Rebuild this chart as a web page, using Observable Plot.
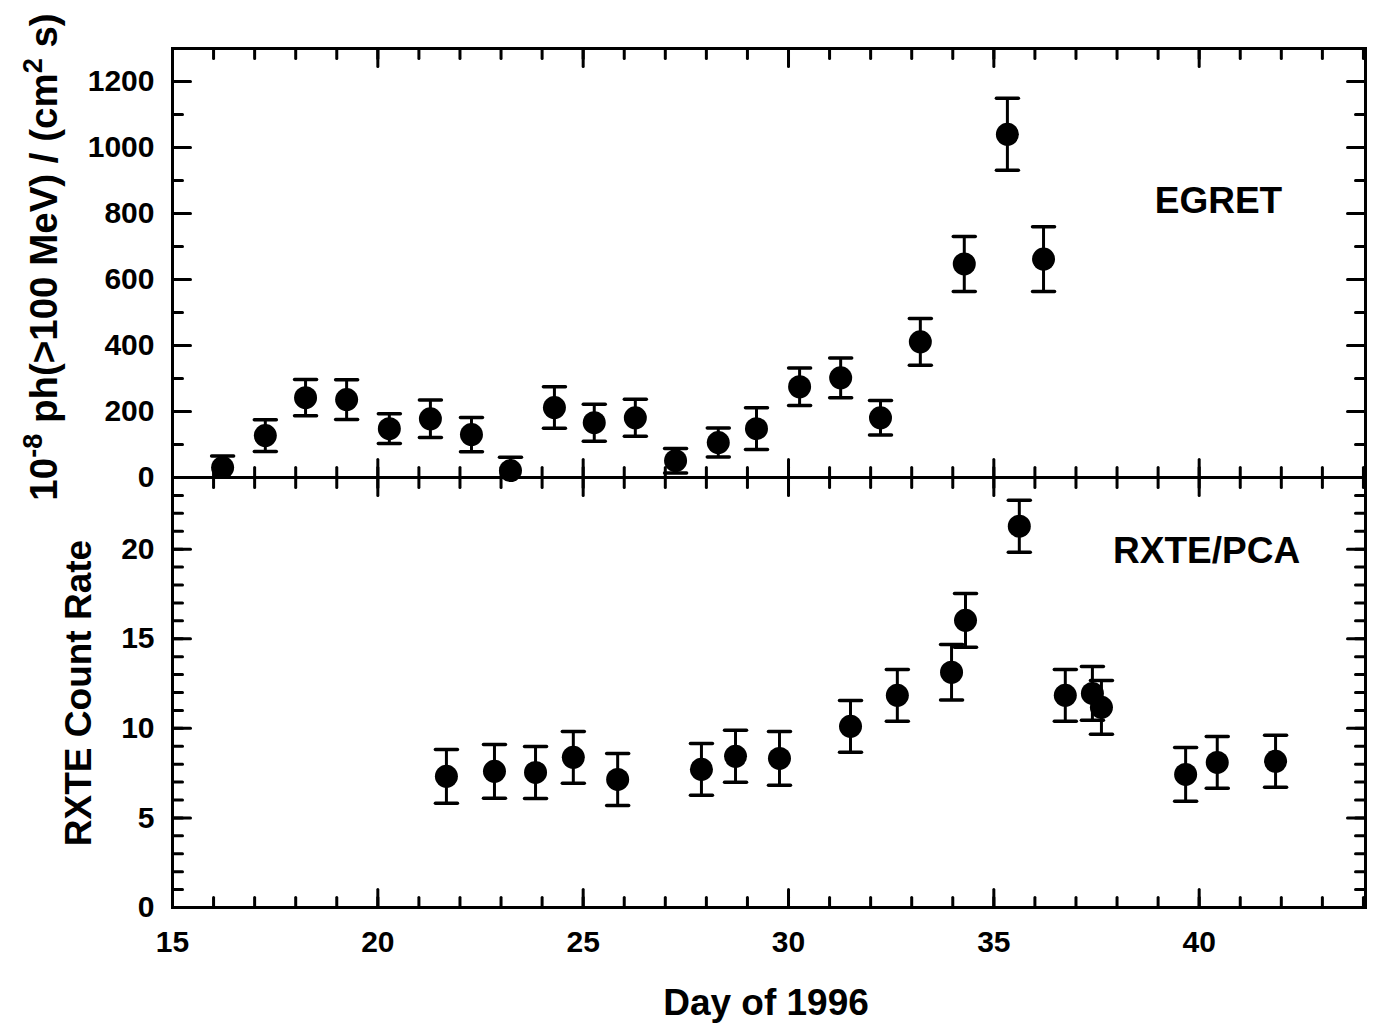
<!DOCTYPE html>
<html><head><meta charset="utf-8">
<script src="https://cdn.jsdelivr.net/npm/d3@7"></script>
<script src="https://cdn.jsdelivr.net/npm/@observablehq/plot@0.6"></script>
<style>
body{margin:0;background:#fff;}
#wrap{position:relative;width:1379px;height:1029px;}
#wrap svg{position:absolute;left:0;}
</style></head><body><div id="wrap"></div>
<script>
// ---- data ----
const egretDay  = [16.22,17.26,18.24,19.24,20.28,21.28,22.28,23.23,24.30,25.27,26.27,27.25,28.29,29.22,30.27,31.27,32.24,33.21,34.28,35.33,36.21];
const egretFlux = [30,127,242,236,148,178,130,21,212,166,181,51,106,148,275,302,181,411,647,1040,662];
const egretErr  = [35,48,55,60,45,57,52,40,63,56,56,37,44,63,57,60,52,71,83,109,98];

const rxteDay  = [21.67,22.84,23.84,24.76,25.84,27.88,28.71,29.78,31.51,32.65,33.97,34.31,35.62,36.74,37.40,37.62,39.67,40.44,41.86];
const rxteRate = [7.32,7.60,7.54,8.38,7.15,7.71,8.44,8.32,10.11,11.84,13.13,16.03,21.28,11.84,11.95,11.17,7.43,8.10,8.16];
const rxteErr  = [1.5,1.5,1.45,1.45,1.45,1.45,1.45,1.5,1.45,1.45,1.55,1.5,1.45,1.45,1.5,1.5,1.5,1.45,1.45];

const xDomain = [15, 44.05];
const xMajorTicks = [15,20,25,30,35,40];
const xMinorTicks = d3.range(15, 45, 1);
const egretDomain = [0, 1300];
const egretMajorTicks = [0,200,400,600,800,1000,1200];
const egretMinorTicks = d3.range(0, 1301, 100);
const rxteDomain = [0, 24];
const rxteMajorTicks = [0,5,10,15,20];
const rxteMinorTicks = d3.range(0, 25, 1);

const egretLabel = {x: 40.47, y: 837, text: "EGRET"};
const rxteLabel  = {x: 40.18, y: 19.9, text: "RXTE/PCA"};
const xAxisLabel = "Day of 1996";
const rxteAxisLabel = "RXTE Count Rate";

// ---- helpers ----
const FONT = '"Liberation Sans", Arial, Helvetica, sans-serif';
const W = 1379;
const fmt = d => `${d}`;
const lineShape = {draw(ctx, l) { ctx.moveTo(0, 0); ctx.lineTo(0, -l); }};
function ticks(values, anchor, len) {
  const rot = {bottom: 0, top: 180, left: 90, right: 270}[anchor];
  const isX = anchor === "bottom" || anchor === "top";
  return Plot.vector(values, {[isX ? "x" : "y"]: d => d, frameAnchor: anchor, rotate: rot,
    length: len, anchor: "start", shape: lineShape, stroke: "black", strokeWidth: 3});
}
function allTicks(yMajor, yMinor, sides) {
  const out = [];
  for (const s of sides) {
    const isX = s === "bottom" || s === "top";
    out.push(ticks(isX ? xMinorTicks : yMinor, s, 10));
    out.push(ticks(isX ? xMajorTicks : yMajor, s, 18));
  }
  return out;
}
function errMarks(data, clip) {
  return [
    Plot.ruleX(data, {x: "day", y1: d => d.v - d.e, y2: d => d.v + d.e, stroke: "black", strokeWidth: 3, clip}),
    Plot.vector(data, {x: "day", y: d => d.v + d.e, rotate: 90, length: 22, anchor: "middle", shape: lineShape, stroke: "black", strokeWidth: 3.5, clip}),
    Plot.vector(data, {x: "day", y: d => d.v - d.e, rotate: 90, length: 22, anchor: "middle", shape: lineShape, stroke: "black", strokeWidth: 3.5, clip}),
    Plot.dot(data, {x: "day", y: "v", r: 11.5, fill: "black", stroke: "none"})
  ];
}
const style = {fontFamily: FONT, fontSize: "30px", fontWeight: "bold", background: "transparent", overflow: "visible", color: "black"};

const egret = egretDay.map((d, i) => ({day: d, v: egretFlux[i], e: egretErr[i]}));
const rxte  = rxteDay.map((d, i) => ({day: d, v: rxteRate[i], e: rxteErr[i]}));

// ---- top panel ----
const topPlot = Plot.plot({
  width: W, height: 477, marginTop: 48, marginBottom: 0, marginLeft: 172, marginRight: 14,
  x: {domain: xDomain, axis: null},
  y: {domain: egretDomain},
  style,
  marks: [
    Plot.axisY(egretMajorTicks, {anchor: "left", tickSize: 0, tickPadding: 18, tickFormat: fmt, label: null, fill: "black"}),
    ...allTicks(egretMajorTicks, egretMinorTicks, ["bottom", "top", "left", "right"]),
    ...errMarks(egret, true),
    Plot.text([egretLabel], {x: "x", y: "y", text: "text", fontSize: 37, fontWeight: "bold", fill: "black"}),
    Plot.frame({stroke: "black", strokeWidth: 3})
  ]
});

// ---- bottom panel ----
const botPlot = Plot.plot({
  width: W, height: 552, marginTop: 0, marginBottom: 122, marginLeft: 172, marginRight: 14,
  x: {domain: xDomain},
  y: {domain: rxteDomain},
  style,
  marks: [
    Plot.axisY(rxteMajorTicks, {anchor: "left", tickSize: 0, tickPadding: 18, tickFormat: fmt, label: null, fill: "black"}),
    Plot.axisX(xMajorTicks, {anchor: "bottom", tickSize: 0, tickPadding: 23, tickFormat: fmt, label: null, fill: "black"}),
    ...allTicks(rxteMajorTicks, rxteMinorTicks, ["bottom", "top", "left", "right"]),
    ...errMarks(rxte, false),
    Plot.text([rxteLabel], {x: "x", y: "y", text: "text", fontSize: 37, fontWeight: "bold", fill: "black"}),
    Plot.frame({stroke: "black", strokeWidth: 3})
  ]
});

const wrap = document.getElementById("wrap");
topPlot.style.top = "0px";
botPlot.style.top = "477px";
wrap.appendChild(topPlot);
wrap.appendChild(botPlot);

// ---- axis titles ----
const t1 = d3.select(topPlot).append("text")
  .attr("transform", "translate(57,257) rotate(-90)")
  .attr("text-anchor", "middle").attr("fill", "black")
  .style("font-family", FONT).style("font-size", "38.5px").style("font-weight", "bold");
t1.append("tspan").text("10");
t1.append("tspan").attr("dy", -15).style("font-size", "27px").text("-8");
t1.append("tspan").attr("dy", 15).text(" ph(>100 MeV) / (cm");
t1.append("tspan").attr("dy", -15).style("font-size", "27px").text("2");
t1.append("tspan").attr("dy", 15).text(" s)");

d3.select(botPlot).append("text")
  .attr("transform", "translate(91,216) rotate(-90)")
  .attr("text-anchor", "middle").attr("fill", "black")
  .style("font-family", FONT).style("font-size", "37px").style("font-weight", "bold")
  .text(rxteAxisLabel);

d3.select(botPlot).append("text")
  .attr("x", 766).attr("y", 538)
  .attr("text-anchor", "middle").attr("fill", "black")
  .style("font-family", FONT).style("font-size", "37px").style("font-weight", "bold")
  .text(xAxisLabel);
</script></body></html>
